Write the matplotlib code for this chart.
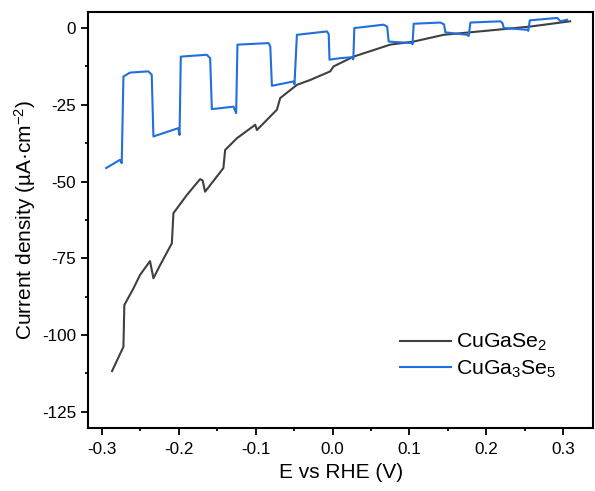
import matplotlib
matplotlib.use("Agg")
from matplotlib import pyplot as plt
from matplotlib.ticker import MultipleLocator

plt.rcParams['font.family'] = ['Liberation Sans', 'DejaVu Sans']
plt.rcParams['mathtext.default'] = 'regular'
plt.rcParams['axes.unicode_minus'] = False

# CuGaSe2
e_cgs = [-0.2868, -0.272, -0.2708, -0.259, -0.2504, -0.2374, -0.233, -0.2243,
         -0.209, -0.207, -0.1896, -0.1723, -0.169, -0.1658, -0.142, -0.1397,
         -0.1245, -0.1006, -0.0984, -0.0724, -0.0681, -0.0464, -0.029, -0.003,
         0.0013, 0.0273, 0.075, 0.1055, 0.1445, 0.214, 0.2574, 0.309]
j_cgs = [-111.7, -103.8, -90.2, -84.8, -80.4, -75.9, -81.5, -77.2,
         -70.1, -60.3, -54.4, -49.2, -49.6, -53.3, -45.6, -39.7,
         -35.9, -31.5, -33.2, -26.6, -22.8, -18.5, -16.9, -14.1,
         -12.5, -9.3, -5.4, -4.4, -2.2, -0.55, 0.5, 2.2]

# CuGa3Se5 (luz intermitente)
e_cgs5 = [-0.2945, -0.2764, -0.2742, -0.272, -0.2634, -0.2396, -0.2352,
          -0.233, -0.2006, -0.199, -0.1974, -0.1636, -0.1592,
          -0.157, -0.1289, -0.1254, -0.1237, -0.0833, -0.081,
          -0.0789, -0.0508, -0.0495, -0.0464, -0.0073, -0.005,
          -0.004, 0.010, 0.0253, 0.027, 0.0283, 0.0664, 0.071,
          0.073, 0.1034, 0.104, 0.1055, 0.1402, 0.145,
          0.1467, 0.175, 0.177, 0.1793, 0.2184, 0.221,
          0.2227, 0.2531, 0.2545, 0.2565, 0.2922, 0.2964, 0.305]
j_cgs5 = [-45.6, -42.9, -44.0, -15.8, -14.5, -14.1, -15.2,
          -35.3, -32.6, -34.8, -9.3, -8.7, -9.8,
          -26.4, -25.6, -27.7, -5.4, -4.9, -6.0,
          -18.8, -17.4, -18.3, -2.2, -1.1, -2.0,
          -10.3, -9.8, -9.5, -10.2, 0.0, 1.1, 0.5,
          -4.4, -4.9, -5.3, 1.4, 1.8, 1.2,
          -1.4, -2.2, -2.6, 1.8, 2.2, 1.6,
          0.0, -0.55, -0.9, 2.5, 3.3, 2.2, 2.7]

fig = plt.figure(figsize=(5.95, 4.91), dpi=100)
ax = fig.add_axes([0.148, 0.128, 0.849, 0.848])

ax.plot(e_cgs, j_cgs, color='#404040', lw=1.5, label='CuGaSe$_2$')
ax.plot(e_cgs5, j_cgs5, color='#1f6fdc', lw=1.5, label='CuGa$_3$Se$_5$')

ax.set_xlim(-0.318, 0.339)
ax.set_ylim(-130.3, 5.3)
ax.xaxis.set_major_locator(MultipleLocator(0.1))
ax.xaxis.set_minor_locator(MultipleLocator(0.05))
ax.yaxis.set_major_locator(MultipleLocator(25))
ax.yaxis.set_minor_locator(MultipleLocator(12.5))
ax.tick_params(which='both', direction='out', width=1.3, labelsize=12.3)
ax.tick_params(which='major', length=5)
ax.tick_params(which='minor', length=2.5)
ax.tick_params(axis='x', pad=5)
ax.xaxis.set_major_formatter(matplotlib.ticker.FuncFormatter(lambda v, p: f"{v:.1f}".replace('-0.0', '0.0')))
for s in ax.spines.values():
    s.set_linewidth(1.5)

ax.set_xlabel('E vs RHE (V)', fontsize=15, labelpad=4)
ax.set_ylabel('Current density (µA·cm$^{-2}$)', fontsize=15, labelpad=3)

ax.legend(loc='lower right', bbox_to_anchor=(0.965, 0.07), frameon=False,
          fontsize=15.3, handlelength=2.4, handletextpad=0.25, labelspacing=0.25)

fig.savefig('out.png', dpi=100)
